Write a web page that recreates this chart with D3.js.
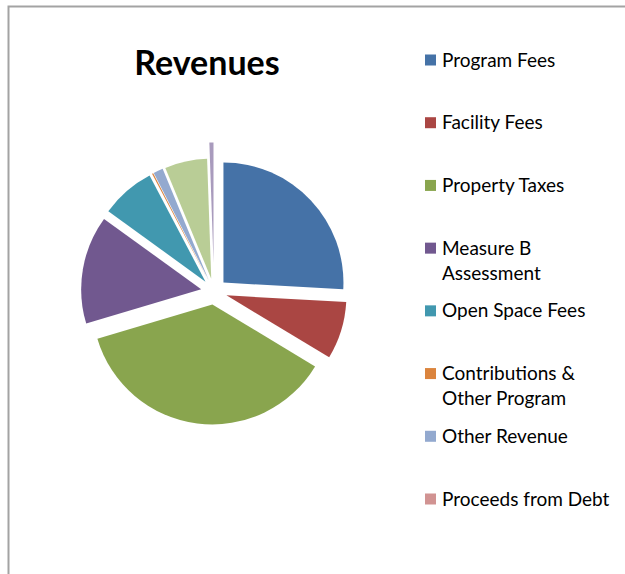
<!DOCTYPE html>
<html lang="en">
<head>
<meta charset="UTF-8">
<title>Revenues</title>
<script src="https://d3js.org/d3.v7.min.js"></script>
<style>
  body { margin: 0; background: #fff; }
  text { font-family: Lato, "Open Sans", sans-serif; fill: #000; }
</style>
</head>
<body>
<div id="main"></div>
<script>
    // data (share of total, %)
    const categories = ["Program Fees", "Facility Fees", "Property Taxes", "Measure B Assessment",
        "Open Space Fees", "Contributions & Other Program", "Other Revenue", "Proceeds from Debt",
        "Category 9", "Category 10"]
    const values = [25.9, 7.75, 36.75, 14.6, 7.3, 0.17, 1.3, 0.0, 5.7, 0.55]
    const colors = ["#4572a7", "#aa4643", "#89a54e", "#71588f", "#4198af",
        "#db843d", "#93a9cf", "#d19392", "#b9cd96", "#a99bbd"]
    // legend only has room for the first 8 entries
    const legendLines = [["Program Fees"], ["Facility Fees"], ["Property Taxes"], ["Measure B", "Assessment"],
        ["Open Space Fees"], ["Contributions &", "Other Program"], ["Other Revenue"], ["Proceeds from Debt"]]

    let width = 625, height = 574

    let svg = d3.select("#main")
        .append("svg")
        .attr("width", width)
        .attr("height", height)

    // chart area frame (right and bottom are off-screen)
    svg.append("rect")
        .attr("x", 8.5).attr("y", 6.5)
        .attr("width", 700).attr("height", 700)
        .attr("fill", "none")
        .attr("stroke", "#a3a3a3")
        .attr("stroke-width", 2)

    svg.append("text")
        .attr("x", 207).attr("y", 75)
        .attr("text-anchor", "middle")
        .style("font-weight", "bold")
        .style("font-size", "34px")
        .text("Revenues")

    let cx = 214, cy = 291.5, radius = 120
    let explode = i => i === 9 ? 29 : 13

    let pie = d3.pie().sort(null).value(d => d)
    let arc = d3.arc().innerRadius(0).outerRadius(radius)

    svg.append("g")
        .attr("transform", `translate(${cx}, ${cy})`)
        .selectAll("path")
        .data(pie(values))
        .enter()
        .append("path")
        .attr("d", arc)
        .attr("fill", (d, i) => colors[i])
        .attr("transform", function (d, i) {
            let a = (d.startAngle + d.endAngle) / 2
            return `translate(${Math.sin(a) * explode(i)}, ${-Math.cos(a) * explode(i)})`
        })

    let legendY = d3.scaleLinear().domain([0, 7]).range([60, 499])

    let legend = svg.append("g")
        .selectAll("g")
        .data(legendLines)
        .enter()
        .append("g")
        .attr("transform", (d, i) => `translate(425, ${legendY(i)})`)

    legend.append("rect")
        .attr("x", 0).attr("y", -5.5)
        .attr("width", 11).attr("height", 11)
        .attr("fill", (d, i) => colors[i])

    legend.append("text")
        .attr("x", 17)
        .attr("y", 6.5)
        .style("font-size", "19px")
        .selectAll("tspan")
        .data(d => d)
        .enter()
        .append("tspan")
        .attr("x", 17)
        .attr("dy", (d, j) => j === 0 ? 0 : 25)
        .text(d => d)
</script>
</body>
</html>
